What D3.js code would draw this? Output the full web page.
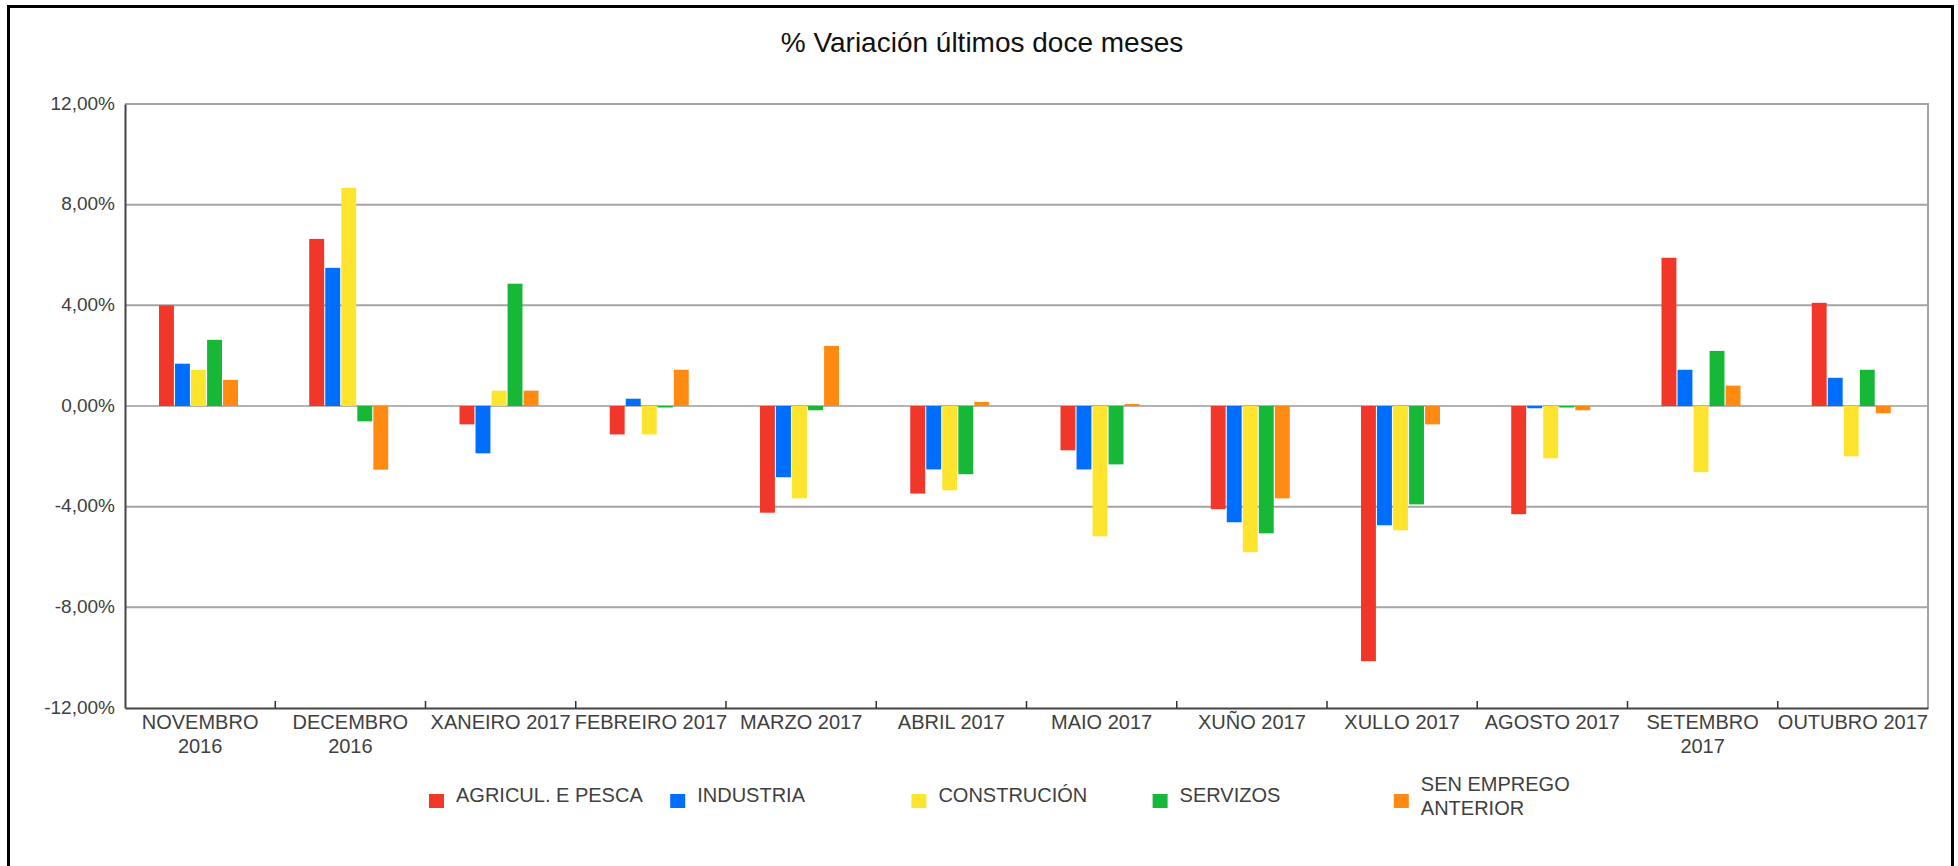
<!DOCTYPE html>
<html>
<head>
<meta charset="utf-8">
<script src="https://cdn.jsdelivr.net/npm/d3@7"></script>
<style>
  body { margin: 0; background: #fff; }
  svg { display: block; font-family: "Liberation Sans", Arial, sans-serif; }
</style>
</head>
<body>
<div id="chart"></div>
<script>
// months (x categories), "\n" marks the wrap seen on the picture
const months = ['NOVEMBRO\n2016', 'DECEMBRO\n2016', 'XANEIRO 2017', 'FEBREIRO 2017', 'MARZO 2017',
  'ABRIL 2017', 'MAIO 2017', 'XUÑO 2017', 'XULLO 2017', 'AGOSTO 2017', 'SETEMBRO\n2017', 'OUTUBRO 2017']

const seriesNames = ['AGRICUL. E PESCA', 'INDUSTRIA', 'CONSTRUCIÓN', 'SERVIZOS', 'SEN EMPREGO ANTERIOR']

// % variation, one array per sector
const agricultura = [4.00, 6.64, -0.73, -1.13, -4.24, -3.48, -1.76, -4.10, -10.14, -4.30, 5.89, 4.10]
const industria = [1.68, 5.49, -1.88, 0.29, -2.83, -2.52, -2.52, -4.62, -4.74, -0.09, 1.44, 1.12]
const construcion = [1.44, 8.67, 0.61, -1.13, -3.67, -3.35, -5.18, -5.81, -4.94, -2.08, -2.63, -2.00]
const servizos = [2.63, -0.61, 4.86, -0.06, -0.17, -2.71, -2.32, -5.06, -3.91, -0.06, 2.19, 1.44]
const senEmprego = [1.04, -2.53, 0.61, 1.44, 2.39, 0.16, 0.08, -3.67, -0.73, -0.17, 0.81, -0.29]

const yTicks = [-12, -8, -4, 0, 4, 8, 12]

const colors = ['#f0372a', '#006efc', '#fde52f', '#17b838', '#ff8a12']

const width = 1958,
  height = 866
const plot = { left: 125, right: 1928, top: 104, bottom: 708 }

const svg = d3.select('#chart')
  .append('svg')
  .attr('width', width)
  .attr('height', height)

// outer frame
svg.append('rect')
  .attr('x', 8.5)
  .attr('y', 6.5)
  .attr('width', 1944)
  .attr('height', 900)
  .attr('fill', 'none')
  .attr('stroke', '#000')
  .attr('stroke-width', 3)

svg.append('text')
  .attr('x', 982)
  .attr('y', 52)
  .attr('text-anchor', 'middle')
  .attr('font-size', 28)
  .attr('fill', '#111')
  .text('% Variación últimos doce meses')

const x0 = d3.scaleBand()
  .domain(months)
  .range([plot.left, plot.right])

const x1 = d3.scaleBand()
  .domain(seriesNames)
  .range([34, 113])
  .paddingInner(0.07)

const y = d3.scaleLinear()
  .domain([-12, 12])
  .range([plot.bottom, plot.top])

const fmt = v => d3.format('.2f')(v).replace('.', ',').replace('−', '-') + '%'

// gridlines
svg.append('g')
  .selectAll('line')
  .data(yTicks.filter(d => d > -12))
  .enter()
  .append('line')
  .attr('x1', plot.left)
  .attr('x2', plot.right)
  .attr('y1', d => y(d))
  .attr('y2', d => y(d))
  .attr('stroke', d => d === 0 ? '#b4b4b4' : '#a4a4a4')
  .attr('stroke-width', 2)

// right border of plot
svg.append('line')
  .attr('x1', plot.right).attr('x2', plot.right)
  .attr('y1', plot.top - 1).attr('y2', plot.bottom)
  .attr('stroke', '#a4a4a4')
  .attr('stroke-width', 2)

// bars
const table = seriesNames.map((name, s) => ({
  name: name,
  color: colors[s],
  values: [agricultura, industria, construcion, servizos, senEmprego][s]
}))

const groups = svg.append('g')
  .selectAll('g')
  .data(months)
  .enter()
  .append('g')
  .attr('transform', d => `translate(${x0(d)},0)`)

groups.selectAll('rect')
  .data((m, i) => table.map(t => ({ name: t.name, color: t.color, v: t.values[i] })))
  .enter()
  .append('rect')
  .attr('x', d => x1(d.name))
  .attr('width', x1.bandwidth())
  .attr('y', d => y(Math.max(0, d.v)))
  .attr('height', d => Math.abs(y(d.v) - y(0)))
  .attr('fill', d => d.color)

// y axis
const yAxis = d3.axisLeft(y)
  .tickValues(yTicks)
  .tickFormat(fmt)
  .tickSize(0)
  .tickPadding(10)

const gy = svg.append('g')
  .attr('transform', `translate(${plot.left},0)`)
  .call(yAxis)
gy.select('.domain').attr('stroke', '#444').attr('stroke-width', 2)
gy.selectAll('text')
  .attr('font-size', 19)
  .attr('fill', '#404040')
  .attr('font-family', '"Liberation Sans", Arial, sans-serif')
  .attr('dy', '0.28em')

// x axis with ticks between the months
const xAxis = d3.axisBottom(x0).tickSize(0).tickFormat('')
const gx = svg.append('g')
  .attr('transform', `translate(0,${plot.bottom})`)
  .call(xAxis)
gx.select('.domain').attr('stroke', '#444').attr('stroke-width', 2)

svg.append('g')
  .selectAll('line')
  .data(months.slice(1))
  .enter()
  .append('line')
  .attr('x1', d => x0(d))
  .attr('x2', d => x0(d))
  .attr('y1', plot.bottom - 7)
  .attr('y2', plot.bottom)
  .attr('stroke', '#333')
  .attr('stroke-width', 1.5)

const xLabels = svg.append('g')
  .selectAll('text')
  .data(months)
  .enter()
  .append('text')
  .attr('x', d => x0(d) + x0.bandwidth() / 2)
  .attr('y', plot.bottom + 21)
  .attr('text-anchor', 'middle')
  .attr('font-size', 20)
  .attr('fill', '#404040')

xLabels.selectAll('tspan')
  .data(d => d.split('\n'))
  .enter()
  .append('tspan')
  .attr('x', function () { return d3.select(this.parentNode).attr('x') })
  .attr('dy', (d, i) => i === 0 ? 0 : 24)
  .text(d => d)

// legend
const legend = svg.append('g')
  .selectAll('g')
  .data(table)
  .enter()
  .append('g')
  .attr('transform', (d, i) => `translate(${429 + i * 241.2},794)`)

legend.append('rect')
  .attr('width', 15)
  .attr('height', 14)
  .attr('fill', d => d.color)

legend.append('text')
  .attr('x', 27)
  .attr('font-size', 20)
  .attr('fill', '#404040')
  .each(function (d) {
    // wrap long names in two lines
    const t = d3.select(this)
    const words = d.name.split(' ')
    let lines = [d.name]
    if (d.name.length > 18) {
      lines = [words.slice(0, 2).join(' '), words.slice(2).join(' ')]
    }
    const first = lines.length === 1 ? 8 : -3
    lines.forEach((l, i) => {
      t.append('tspan').attr('x', 27).attr('y', first + i * 24).text(l)
    })
  })
</script>
</body>
</html>
